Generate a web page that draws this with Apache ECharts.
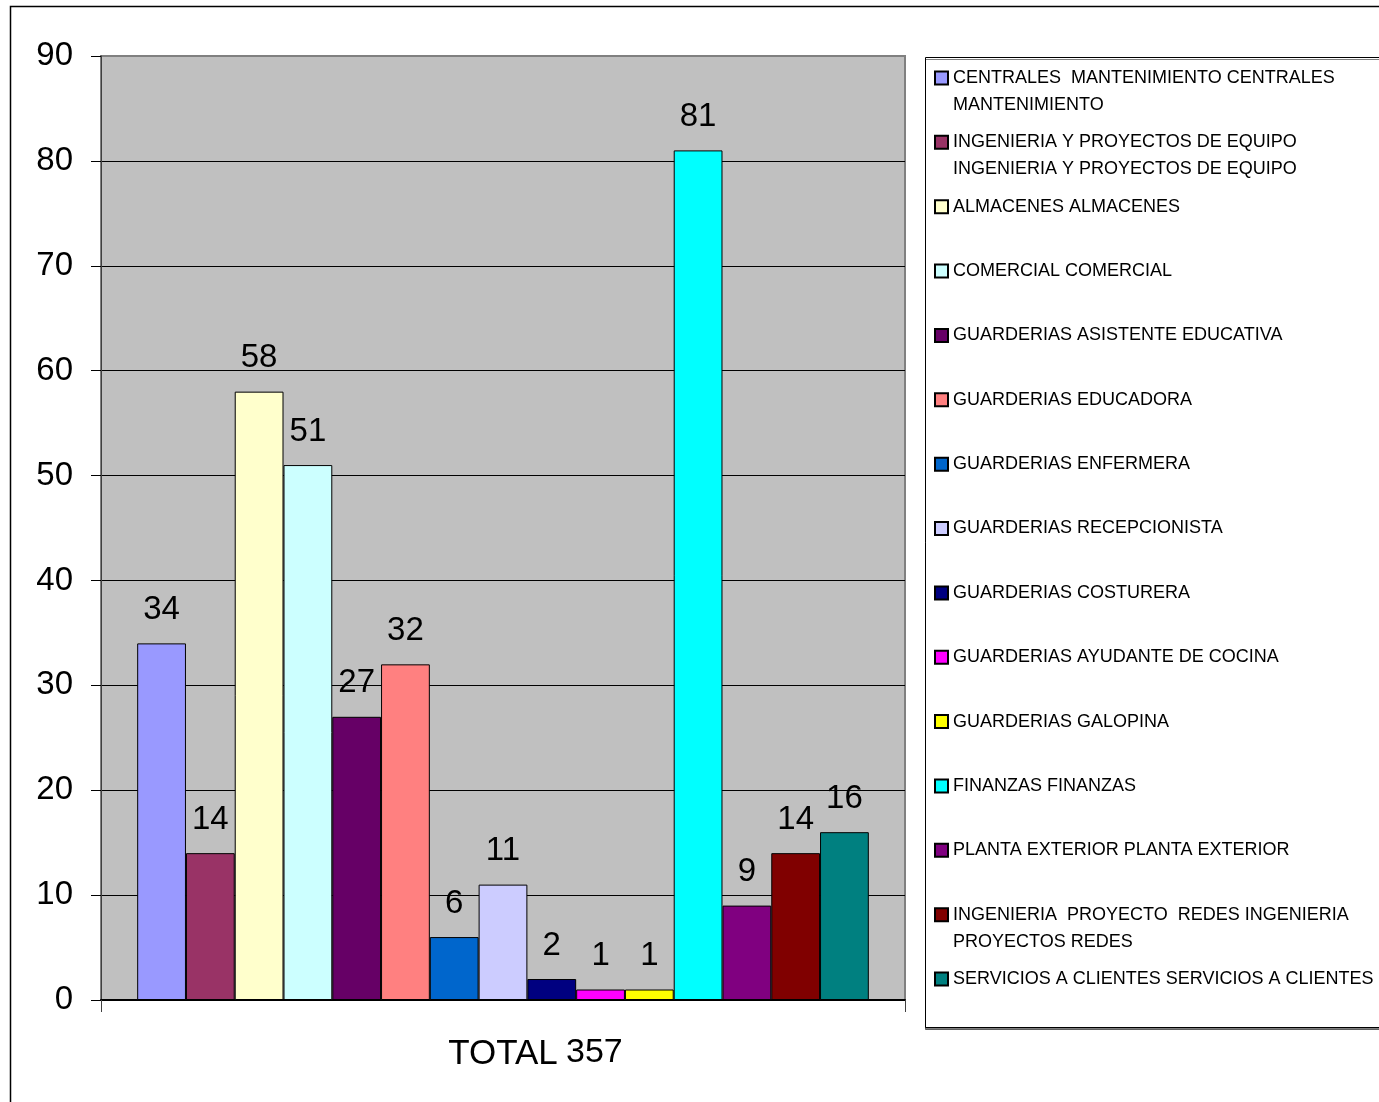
<!DOCTYPE html>
<html>
<head>
<meta charset="utf-8">
<script src="https://cdn.jsdelivr.net/npm/echarts@6/dist/echarts.min.js"></script>
<style>
html,body{margin:0;padding:0;background:#fff;}
#chart{width:1379px;height:1102px;}
</style>
</head>
<body>
<div id="chart"></div>
<script>
const categories = ['TOTAL'];
const seriesNames = [
  'CENTRALES  MANTENIMIENTO CENTRALES MANTENIMIENTO',
  'INGENIERIA Y PROYECTOS DE EQUIPO INGENIERIA Y PROYECTOS DE EQUIPO',
  'ALMACENES ALMACENES',
  'COMERCIAL COMERCIAL',
  'GUARDERIAS ASISTENTE EDUCATIVA',
  'GUARDERIAS EDUCADORA',
  'GUARDERIAS ENFERMERA',
  'GUARDERIAS RECEPCIONISTA',
  'GUARDERIAS COSTURERA',
  'GUARDERIAS AYUDANTE DE COCINA',
  'GUARDERIAS GALOPINA',
  'FINANZAS FINANZAS',
  'PLANTA EXTERIOR PLANTA EXTERIOR',
  'INGENIERIA  PROYECTO  REDES INGENIERIA PROYECTOS REDES',
  'SERVICIOS A CLIENTES SERVICIOS A CLIENTES'
];
const legendLabels = [
  'CENTRALES  MANTENIMIENTO CENTRALES\nMANTENIMIENTO',
  'INGENIERIA Y PROYECTOS DE EQUIPO\nINGENIERIA Y PROYECTOS DE EQUIPO',
  'ALMACENES ALMACENES',
  'COMERCIAL COMERCIAL',
  'GUARDERIAS ASISTENTE EDUCATIVA',
  'GUARDERIAS EDUCADORA',
  'GUARDERIAS ENFERMERA',
  'GUARDERIAS RECEPCIONISTA',
  'GUARDERIAS COSTURERA',
  'GUARDERIAS AYUDANTE DE COCINA',
  'GUARDERIAS GALOPINA',
  'FINANZAS FINANZAS',
  'PLANTA EXTERIOR PLANTA EXTERIOR',
  'INGENIERIA  PROYECTO  REDES INGENIERIA\nPROYECTOS REDES',
  'SERVICIOS A CLIENTES SERVICIOS A CLIENTES'
];
const values = [34, 14, 58, 51, 27, 32, 6, 11, 2, 1, 1, 81, 9, 14, 16];
const colors = ['#9999FF', '#993366', '#FFFFCC', '#CCFFFF', '#660066', '#FF8080', '#0066CC',
  '#CCCCFF', '#000080', '#FF00FF', '#FFFF00', '#00FFFF', '#800080', '#800000', '#008080'];
const yTicks = [0, 10, 20, 30, 40, 50, 60, 70, 80, 90];
const total = values.reduce((a, b) => a + b, 0);

const FONT = '"Liberation Sans", Arial, sans-serif';
const chart = echarts.init(document.getElementById('chart'));

// Each legend entry is laid out on three text lines (blank line first) so the
// first visible line sits level with the colour square, like the original.
const labelMap = {};
seriesNames.forEach((n, i) => {
  const parts = legendLabels[i].split('\n');
  const l1 = parts[0];
  const l2 = parts.length > 1 ? parts[1] : '\u00a0';
  labelMap[n] = '\u00a0\n' + l1 + '\n' + l2;
});

const splitColors = yTicks.map((t, i) => i === yTicks.length - 1 ? '#808080' : '#000000');

const option = {
  animation: false,
  backgroundColor: '#ffffff',
  textStyle: { fontFamily: FONT },
  grid: {
    left: 101, top: 56, right: 474, bottom: 102,
    show: true, backgroundColor: '#C0C0C0', borderColor: '#808080', borderWidth: 2
  },
  xAxis: {
    type: 'category',
    data: categories,
    axisLine: { show: true, lineStyle: { color: '#000', width: 2 } },
    axisTick: { show: true, length: 12, lineStyle: { color: '#404040', width: 1 } },
    axisLabel: { fontSize: 35, color: '#000', margin: 37, fontFamily: FONT }
  },
  yAxis: {
    type: 'value',
    min: 0, max: 90, interval: 10,
    axisLine: { show: true, lineStyle: { color: '#404040', width: 1 } },
    axisTick: { show: true, length: 10, lineStyle: { color: '#000', width: 1 } },
    axisLabel: { fontSize: 33, color: '#000', margin: 28, fontFamily: FONT },
    splitLine: { show: true, lineStyle: { color: splitColors, width: 1 } }
  },
  legend: {
    orient: 'vertical',
    left: 934,
    top: 37.5,
    padding: 0,
    itemGap: -16.64,
    itemWidth: 13,
    itemHeight: 13,
    icon: 'rect',
    selectedMode: false,
    data: seriesNames,
    formatter: function (name) { return labelMap[name]; },
    textStyle: {
      fontSize: 18, color: '#000', fontFamily: FONT,
      lineHeight: 27
    }
  },
  graphic: [
    {
      type: 'rect', silent: true, z: -10,
      shape: { x: 10.5, y: 6.5, width: 1400, height: 1200 },
      style: { fill: 'none', stroke: '#000', lineWidth: 1.5 }
    },
    {
      type: 'rect', silent: true, z: 0,
      shape: { x: 925.5, y: 57.5, width: 480, height: 970 },
      style: { fill: '#fff', stroke: '#000', lineWidth: 1, shadowColor: 'rgba(0,0,0,0.5)', shadowOffsetY: 2, shadowOffsetX: 0, shadowBlur: 0 }
    },
    {
      type: 'text', silent: true,
      left: 566, top: 1036,
      style: { text: String(total), fontSize: 34, fill: '#000', font: '34px ' + FONT }
    }
  ],
  series: seriesNames.map((name, i) => ({
    type: 'bar',
    name: name,
    data: [values[i]],
    barGap: 0,
    barCategoryGap: '9%',
    itemStyle: { color: colors[i], borderColor: '#000', borderWidth: 1 },
    label: {
      show: true, position: 'top', distance: 17,
      fontSize: 33, color: '#000', fontFamily: FONT
    }
  }))
};
chart.setOption(option);
</script>
</body>
</html>
